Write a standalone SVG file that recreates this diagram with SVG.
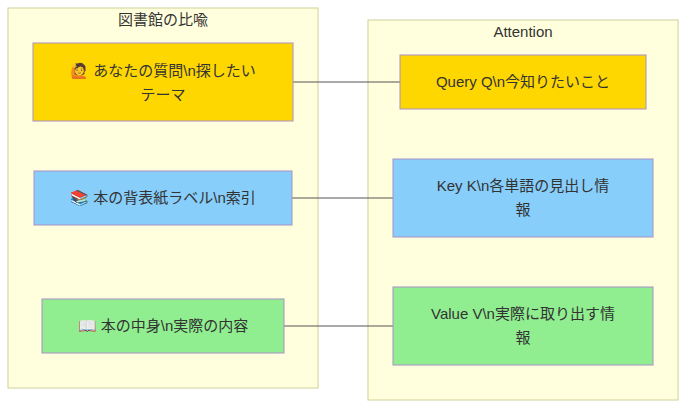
<svg xmlns="http://www.w3.org/2000/svg" width="686" height="408" viewBox="0 0 686 408">
<style>
text{font-family:"Liberation Sans","Noto Sans CJK JP",sans-serif;font-size:15px;fill:#333;text-anchor:middle}
.cl{fill:#ffffde;stroke:#d0d09a;stroke-width:1}
.n{stroke:#a890c8;stroke-width:1}
.e{stroke:#555;stroke-width:1;fill:none}
</style>
<rect x="0" y="0" width="686" height="408" fill="#fff"/>
<g id="cluster-library"><rect class="cl" x="8" y="8" width="310" height="380"/><text x="163" y="25">図書館の比喩</text></g>
<g id="cluster-attention"><rect class="cl" x="368" y="20" width="310" height="380"/><text x="523" y="37">Attention</text></g>
<g id="connectors">
<line class="e" x1="293" y1="82" x2="400" y2="82"/>
<line class="e" x1="292" y1="198" x2="393" y2="198"/>
<line class="e" x1="284" y1="326" x2="393" y2="326"/>
</g>
<g id="n-question"><rect class="n" x="33" y="43" width="260" height="78" fill="#ffd700"/><text x="163" y="76">🙋 あなたの質問\n探したい</text><text x="163" y="100">テーマ</text></g>
<g id="n-label"><rect class="n" x="34" y="171" width="258" height="54" fill="#87cefa"/><text x="163" y="203">📚 本の背表紙ラベル\n索引</text></g>
<g id="n-content"><rect class="n" x="42" y="299" width="242" height="54" fill="#90ee90"/><text x="163" y="331">📖 本の中身\n実際の内容</text></g>
<g id="n-query"><rect class="n" x="400" y="55" width="246" height="54" fill="#ffd700"/><text x="523" y="87">Query Q\n今知りたいこと</text></g>
<g id="n-key"><rect class="n" x="393" y="159" width="260" height="78" fill="#87cefa"/><text x="523" y="191">Key K\n各単語の見出し情</text><text x="523" y="215">報</text></g>
<g id="n-value"><rect class="n" x="393" y="287" width="260" height="78" fill="#90ee90"/><text x="523" y="319">Value V\n実際に取り出す情</text><text x="523" y="343">報</text></g>
</svg>
